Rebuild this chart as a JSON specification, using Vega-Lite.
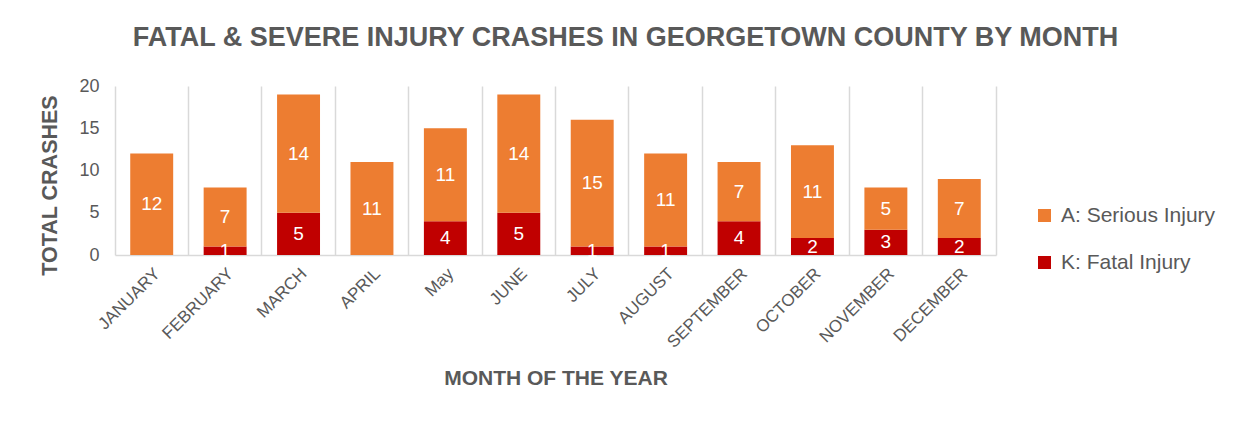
{
  "$schema": "https://vega.github.io/schema/vega-lite/v6.json",
  "width": 881,
  "height": 169,
  "autosize": {"type": "none"},
  "padding": {"left": 115, "top": 86, "right": 254, "bottom": 168},
  "background": "white",
  "title": {
    "text": "FATAL & SEVERE INJURY CRASHES IN GEORGETOWN COUNTY BY MONTH",
    "anchor": "middle",
    "frame": "group",
    "dx": 70,
    "offset": 25,
    "font": "Liberation Sans",
    "fontSize": 27,
    "fontWeight": "bold",
    "color": "#595959"
  },
  "data": {
    "values": [
      {"month": "JANUARY", "type": "A: Serious Injury", "value": 12},
      {"month": "FEBRUARY", "type": "K: Fatal Injury", "value": 1},
      {"month": "FEBRUARY", "type": "A: Serious Injury", "value": 7},
      {"month": "MARCH", "type": "K: Fatal Injury", "value": 5},
      {"month": "MARCH", "type": "A: Serious Injury", "value": 14},
      {"month": "APRIL", "type": "A: Serious Injury", "value": 11},
      {"month": "May", "type": "K: Fatal Injury", "value": 4},
      {"month": "May", "type": "A: Serious Injury", "value": 11},
      {"month": "JUNE", "type": "K: Fatal Injury", "value": 5},
      {"month": "JUNE", "type": "A: Serious Injury", "value": 14},
      {"month": "JULY", "type": "K: Fatal Injury", "value": 1},
      {"month": "JULY", "type": "A: Serious Injury", "value": 15},
      {"month": "AUGUST", "type": "K: Fatal Injury", "value": 1},
      {"month": "AUGUST", "type": "A: Serious Injury", "value": 11},
      {"month": "SEPTEMBER", "type": "K: Fatal Injury", "value": 4},
      {"month": "SEPTEMBER", "type": "A: Serious Injury", "value": 7},
      {"month": "OCTOBER", "type": "K: Fatal Injury", "value": 2},
      {"month": "OCTOBER", "type": "A: Serious Injury", "value": 11},
      {"month": "NOVEMBER", "type": "K: Fatal Injury", "value": 3},
      {"month": "NOVEMBER", "type": "A: Serious Injury", "value": 5},
      {"month": "DECEMBER", "type": "K: Fatal Injury", "value": 2},
      {"month": "DECEMBER", "type": "A: Serious Injury", "value": 7}
    ]
  },
  "layer": [
    {
      "mark": {"type": "bar", "width": {"band": 0.585}},
      "encoding": {
        "x": {
          "field": "month",
          "type": "nominal",
          "sort": null,
          "scale": {"paddingInner": 0, "paddingOuter": 0},
          "axis": {
            "orient": "bottom",
            "bandPosition": 0,
            "grid": true,
            "gridColor": "#d9d9d9",
            "gridWidth": 1.5,
            "labels": false,
            "ticks": false,
            "domain": true,
            "domainColor": "#d9d9d9",
            "domainWidth": 1.5,
            "title": null
          }
        },
        "y": {
          "field": "value",
          "type": "quantitative",
          "stack": "zero",
          "scale": {"domain": [0, 20]},
          "axis": {
            "orient": "left",
            "values": [0, 5, 10, 15, 20],
            "grid": false,
            "domain": false,
            "ticks": false,
            "labelPadding": 16,
            "labelFont": "Liberation Sans",
            "labelFontSize": 18,
            "labelColor": "#595959",
            "title": "TOTAL CRASHES",
            "titleFont": "Liberation Sans",
            "titleFontSize": 21.5,
            "titleFontWeight": "bold",
            "titleColor": "#595959",
            "titleAngle": -90,
            "titleX": -65,
            "titleY": 99,
            "titleAlign": "center",
            "titleBaseline": "middle"
          }
        },
        "color": {
          "field": "type",
          "type": "nominal",
          "scale": {
            "domain": ["A: Serious Injury", "K: Fatal Injury"],
            "range": ["#ED7D31", "#C00000"]
          },
          "legend": {
            "orient": "none",
            "legendX": 919,
            "legendY": 119,
            "title": null,
            "symbolType": "square",
            "symbolSize": 169,
            "symbolStrokeWidth": 0,
            "labelFont": "Liberation Sans",
            "labelFontSize": 21,
            "labelColor": "#595959",
            "labelOffset": 6,
            "rowPadding": 25,
            "padding": 0
          }
        },
        "order": {"field": "type", "sort": "descending"}
      }
    },
    {
      "mark": {
        "type": "text",
        "color": "white",
        "font": "Liberation Sans",
        "fontSize": 19,
        "baseline": "middle",
        "align": "center"
      },
      "encoding": {
        "x": {
          "field": "month",
          "type": "nominal",
          "sort": null,
          "axis": {
            "orient": "bottom",
            "grid": false,
            "domain": false,
            "ticks": false,
            "labelAngle": -45,
            "labelPadding": 10,
            "labelFont": "Liberation Sans",
            "labelFontSize": 17,
            "labelColor": "#595959",
            "title": "MONTH OF THE YEAR",
            "titleFont": "Liberation Sans",
            "titleFontSize": 21,
            "titleFontWeight": "bold",
            "titleColor": "#595959",
            "titleY": 123,
            "titleBaseline": "middle"
          }
        },
        "y": {
          "field": "value",
          "type": "quantitative",
          "stack": "zero",
          "bandPosition": 0.5,
          "axis": {
            "orient": "right",
            "labels": false,
            "ticks": false,
            "grid": false,
            "domain": true,
            "domainColor": "#d9d9d9",
            "domainWidth": 1.5,
            "title": null
          }
        },
        "text": {"field": "value", "type": "quantitative"},
        "detail": {"field": "type", "type": "nominal"},
        "order": {"field": "type", "sort": "descending"}
      }
    }
  ],
  "resolve": {"axis": {"x": "independent", "y": "independent"}},
  "config": {"view": {"stroke": null}}
}
